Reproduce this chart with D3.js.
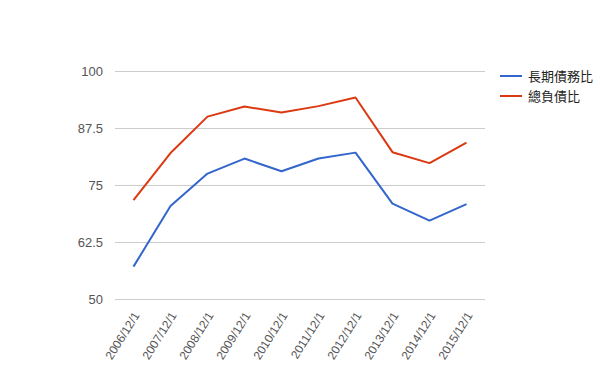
<!DOCTYPE html>
<html>
<head>
<meta charset="utf-8">
<script src="https://cdn.jsdelivr.net/npm/d3@7"></script>
<style>
  body { margin: 0; background: #fff; }
  text { font-family: Arial, "Liberation Sans", "Noto Sans CJK TC", sans-serif; }
</style>
</head>
<body>
<script>
// data
var categories = ["2006/12/1", "2007/12/1", "2008/12/1", "2009/12/1", "2010/12/1",
                  "2011/12/1", "2012/12/1", "2013/12/1", "2014/12/1", "2015/12/1"];
var longTermDebt = [57.1, 70.4, 77.5, 80.8, 78.0, 80.8, 82.1, 70.9, 67.2, 70.8];
var totalDebt = [71.7, 82.0, 90.0, 92.2, 90.9, 92.3, 94.2, 82.2, 79.8, 84.3];
var seriesNames = ["長期債務比", "總負債比"];
var yTicks = [50, 62.5, 75, 87.5, 100];
var colors = ["#3366cc", "#dc3912"];

var width = 600, height = 371;
var margin = {left: 115, right: 115, top: 71, bottom: 72};

var svg = d3.select("body").append("svg")
    .attr("width", width)
    .attr("height", height);

// scales
var xScale = d3.scaleBand()
    .domain(categories)
    .range([margin.left, width - margin.right]);

var yScale = d3.scaleLinear()
    .domain([50, 100])
    .range([height - margin.bottom, margin.top]);

// gridlines
svg.append("g")
    .selectAll("line")
    .data(yTicks)
    .enter()
    .append("line")
    .attr("x1", margin.left)
    .attr("x2", width - margin.right)
    .attr("y1", function(d) { return Math.round(yScale(d)) + 0.5; })
    .attr("y2", function(d) { return Math.round(yScale(d)) + 0.5; })
    .attr("stroke", "#cccccc")
    .attr("stroke-width", 1);

// y labels
svg.append("g")
    .selectAll("text")
    .data(yTicks)
    .enter()
    .append("text")
    .attr("x", margin.left - 12)
    .attr("y", function(d) { return yScale(d); })
    .attr("dy", "0.35em")
    .attr("text-anchor", "end")
    .attr("font-size", 13)
    .attr("fill", "#555")
    .text(function(d) { return d; });

// x labels, rotated
svg.append("g")
    .selectAll("text")
    .data(categories)
    .enter()
    .append("text")
    .attr("transform", function(d) {
      var x = xScale(d) + xScale.bandwidth() / 2 + 3;
      var y = height - margin.bottom + 14;
      return "translate(" + x + "," + y + ") rotate(-58)";
    })
    .attr("text-anchor", "end")
    .attr("dy", "0.35em")
    .attr("font-size", 12)
    .attr("fill", "#555")
    .text(function(d) { return d; });

// lines
var line = d3.line()
    .x(function(d, i) { return xScale(categories[i]) + xScale.bandwidth() / 2; })
    .y(function(d) { return yScale(d); });

[longTermDebt, totalDebt].forEach(function(s, i) {
  svg.append("path")
      .datum(s)
      .attr("d", line)
      .attr("fill", "none")
      .attr("stroke", colors[i])
      .attr("stroke-width", 2)
      .attr("stroke-linejoin", "round");
});

// legend
var legend = svg.append("g")
    .selectAll("g")
    .data(seriesNames)
    .enter()
    .append("g")
    .attr("transform", function(d, i) { return "translate(500," + (76 + i * 20) + ")"; });

legend.append("line")
    .attr("x1", 0)
    .attr("x2", 22)
    .attr("stroke", function(d, i) { return colors[i]; })
    .attr("stroke-width", 2);

legend.append("text")
    .attr("x", 28)
    .attr("dy", "0.35em")
    .attr("font-size", 13)
    .attr("fill", "#222")
    .text(function(d) { return d; });
</script>
</body>
</html>
